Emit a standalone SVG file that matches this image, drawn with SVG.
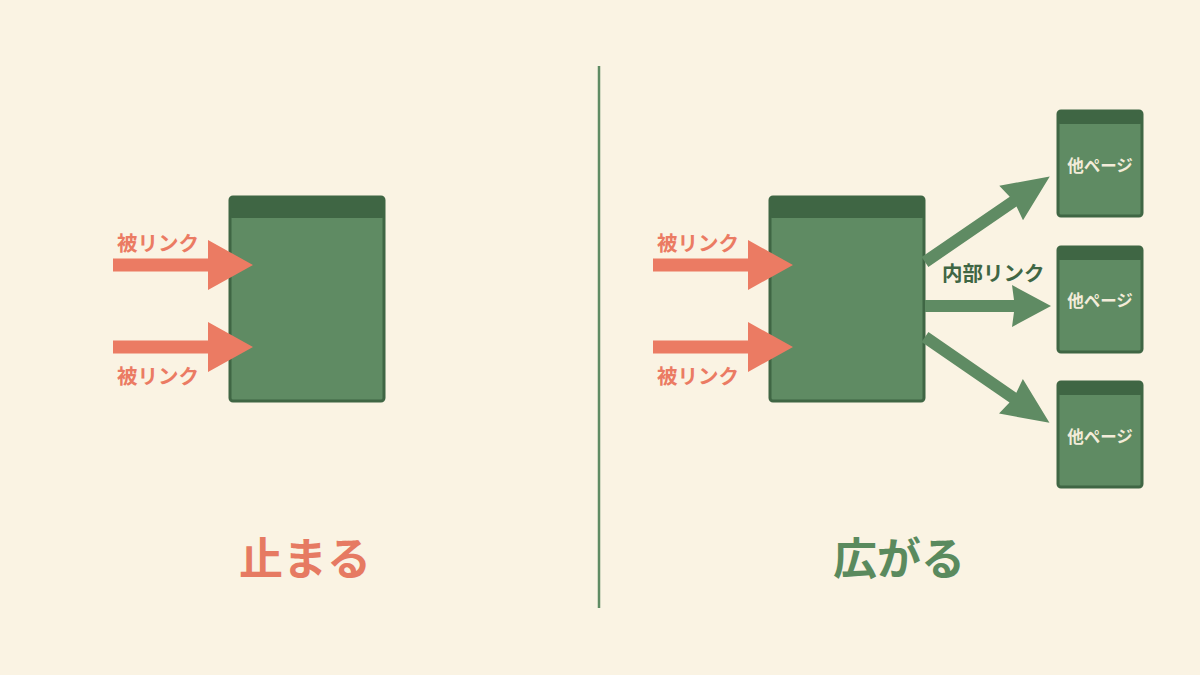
<svg xmlns="http://www.w3.org/2000/svg" width="1200" height="675" viewBox="0 0 1200 675">
<defs>
<style>
.page{fill:#5f8b63;stroke:#3f6644;stroke-width:3}
.hdr{fill:#3f6644}
.lbl{font-family:"Noto Sans CJK JP","Noto Sans",sans-serif;font-weight:700}
.in{fill:#eb7b63}
.out{fill:#5f8b63}
.pt{fill:#f3ecd9;font-size:16.5px}
</style>
<polygon id="inArrow" points="0,-6.5 95,-6.5 95,-25 140,0 95,25 95,6.5 0,6.5"/>
<polygon id="outArrow" points="0,-6 89,-6 87,-21 126,0 87,21 89,6 0,6"/>
</defs>
<rect width="1200" height="675" fill="#faf3e3"/>
<line x1="599" y1="66" x2="599" y2="608" stroke="#5f8b63" stroke-width="2.5"/>

<g id="left-page">
<rect class="page" x="230" y="197" width="154" height="204" rx="3"/>
<rect class="hdr" x="230" y="197" width="154" height="21" rx="2"/>
</g>
<g id="right-page">
<rect class="page" x="770" y="197" width="154" height="204" rx="3"/>
<rect class="hdr" x="770" y="197" width="154" height="21" rx="2"/>
</g>
<g id="other1">
<rect class="page" x="1058" y="111" width="84" height="105" rx="3"/>
<rect class="hdr" x="1058" y="111" width="84" height="13" rx="2"/>
<text class="lbl pt" x="1100" y="172" text-anchor="middle">他ページ</text>
</g>
<g id="other2">
<rect class="page" x="1058" y="247" width="84" height="105" rx="3"/>
<rect class="hdr" x="1058" y="247" width="84" height="13" rx="2"/>
<text class="lbl pt" x="1100" y="307" text-anchor="middle">他ページ</text>
</g>
<g id="other3">
<rect class="page" x="1058" y="382" width="84" height="105" rx="3"/>
<rect class="hdr" x="1058" y="382" width="84" height="13" rx="2"/>
<text class="lbl pt" x="1100" y="443" text-anchor="middle">他ページ</text>
</g>

<g id="connectors">
<use href="#inArrow" class="in" transform="translate(113,265)"/>
<use href="#inArrow" class="in" transform="translate(113,347)"/>
<use href="#inArrow" class="in" transform="translate(653,265)"/>
<use href="#inArrow" class="in" transform="translate(653,347)"/>
<use href="#outArrow" class="out" transform="translate(925,262) rotate(-34.4) scale(1.2,1)"/>
<use href="#outArrow" class="out" transform="translate(925,306)"/>
<use href="#outArrow" class="out" transform="translate(925,337) rotate(34.6) scale(1.2,1)"/>
</g>

<g id="labels">
<text class="lbl" x="117" y="251" font-size="20.5" fill="#eb7b63">被リンク</text>
<text class="lbl" x="117" y="384" font-size="20.5" fill="#eb7b63">被リンク</text>
<text class="lbl" x="657" y="251" font-size="20.5" fill="#eb7b63">被リンク</text>
<text class="lbl" x="657" y="384" font-size="20.5" fill="#eb7b63">被リンク</text>
<text class="lbl" x="942" y="281" font-size="20.5" fill="#3f6644">内部リンク</text>
<text class="lbl" x="305" y="575" font-size="44" fill="#e67a62" text-anchor="middle">止まる</text>
<text class="lbl" x="899" y="575" font-size="44" fill="#5a8a5e" text-anchor="middle">広がる</text>
</g>
</svg>
